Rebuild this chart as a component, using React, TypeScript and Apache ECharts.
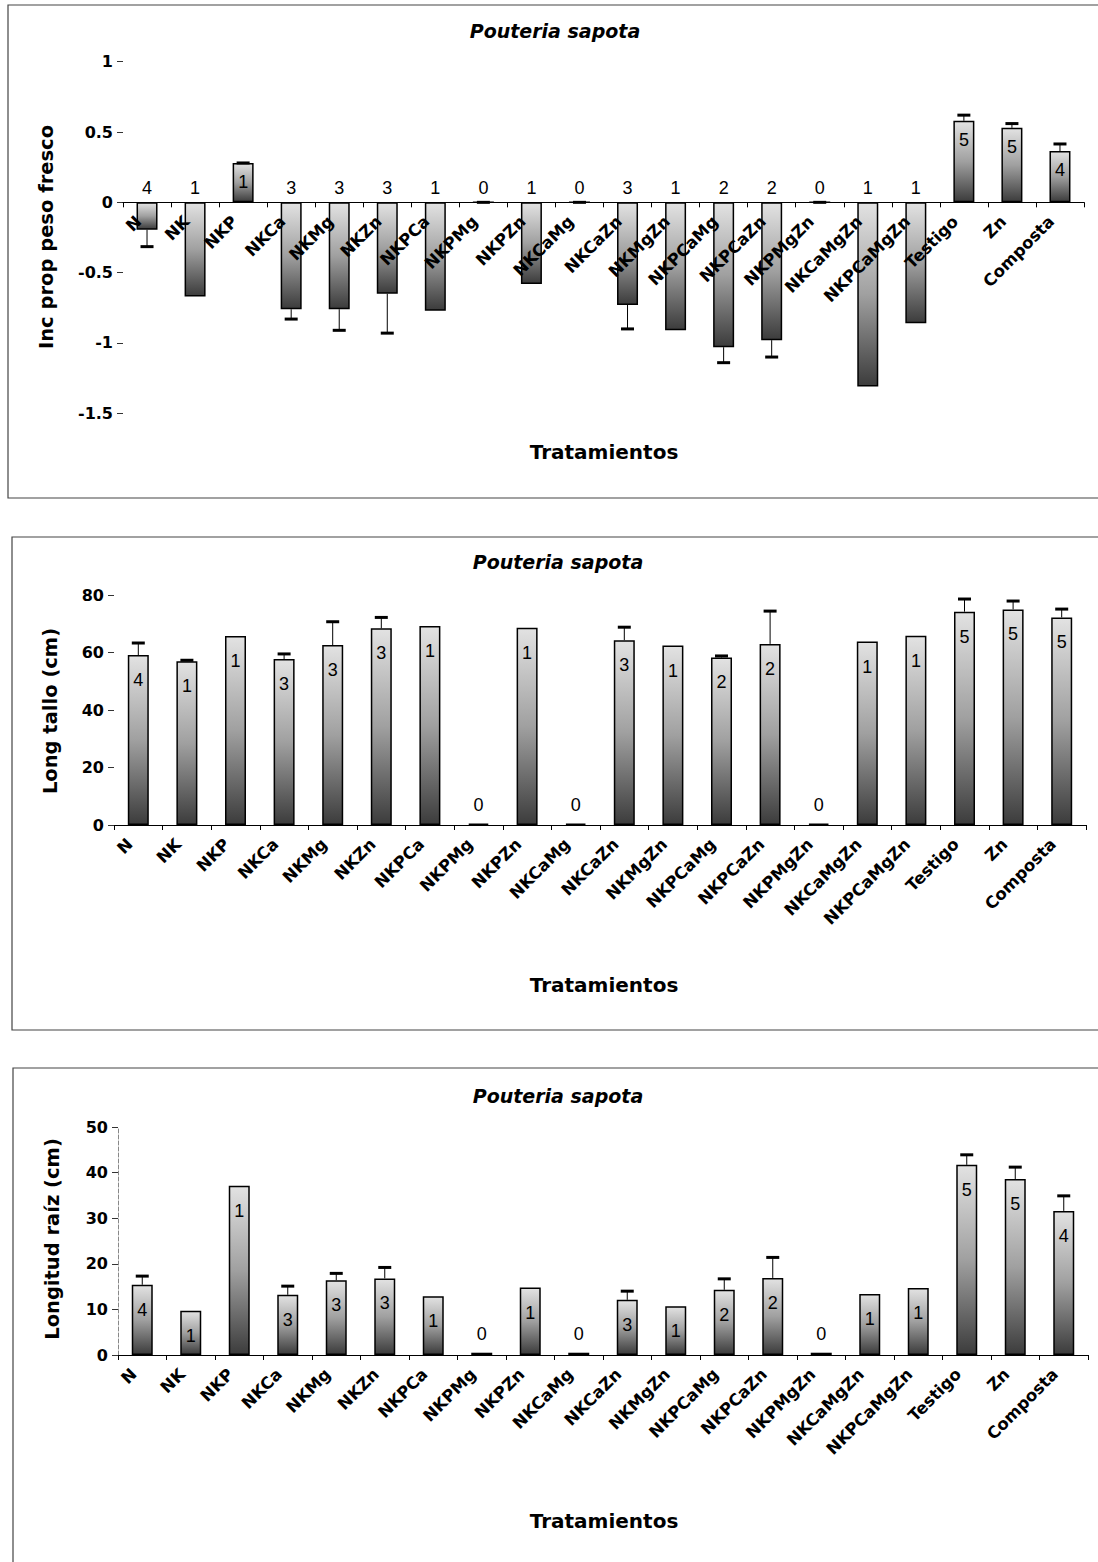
import React, { useEffect, useRef } from "react";
import * as echarts from "echarts";

const categories = ["N", "NK", "NKP", "NKCa", "NKMg", "NKZn", "NKPCa", "NKPMg", "NKPZn", "NKCaMg", "NKCaZn", "NKMgZn", "NKPCaMg", "NKPCaZn", "NKPMgZn", "NKCaMgZn", "NKPCaMgZn", "Testigo", "Zn", "Composta"];

// Panel 1: Inc prop peso fresco
const pesoValues = [-0.195, -0.67, 0.28, -0.76, -0.76, -0.65, -0.77, 0, -0.58, 0, -0.73, -0.91, -1.03, -0.98, 0, -1.31, -0.86, 0.58, 0.53, 0.365];
const pesoErrors = [0.12, null, 0, 0.07, 0.15, 0.28, null, 0, null, 0, 0.17, null, 0.11, 0.12, 0, null, null, 0.04, 0.03, 0.05];
const pesoCounts = [4, 1, 1, 3, 3, 3, 1, 0, 1, 0, 3, 1, 2, 2, 0, 1, 1, 5, 5, 4];

// Panel 2: Long tallo (cm)
const talloValues = [59.1, 57.0, 65.7, 57.7, 62.6, 68.4, 69.2, 0.5, 68.6, 0.5, 64.3, 62.4, 58.3, 63.0, 0.5, 63.8, 65.8, 74.2, 75.0, 72.2];
const talloErrors = [4.2, 0.3, null, 1.8, 8.1, 3.8, null, null, null, null, 4.5, null, 0.5, 11.4, null, null, null, 4.4, 2.9, 2.9];
const talloCounts = [4, 1, 1, 3, 3, 3, 1, 0, 1, 0, 3, 1, 2, 2, 0, 1, 1, 5, 5, 5];

// Panel 3: Longitud raíz (cm)
const raizValues = [15.4, 9.7, 37.1, 13.2, 16.4, 16.8, 12.9, 0.5, 14.8, 0.5, 12.1, 10.7, 14.3, 16.9, 0.5, 13.4, 14.7, 41.7, 38.6, 31.6];
const raizErrors = [1.9, null, null, 1.9, 1.5, 2.4, null, null, null, null, 1.9, null, 2.4, 4.5, null, null, null, 2.2, 2.6, 3.3];
const raizCounts = [4, 1, 1, 3, 3, 3, 1, 0, 1, 0, 3, 1, 2, 2, 0, 1, 1, 5, 5, 4];

const yTicks1 = { min: -1.5, max: 1, interval: 0.5 };
const yTicks2 = { min: 0, max: 80, interval: 20 };
const yTicks3 = { min: 0, max: 50, interval: 10 };

const titleText = "Pouteria sapota";
const xName = "Tratamientos";
const yNames = ["Inc prop peso fresco", "Long tallo (cm)", "Longitud raíz (cm)"];

const FONT = '"DejaVu Sans", sans-serif';

const barFill = {
  type: "linear",
  x: 0, y: 0, x2: 0, y2: 1,
  colorStops: [
    { offset: 0, color: "#e2e2e2" },
    { offset: 0.5, color: "#a0a0a0" },
    { offset: 1, color: "#3c3c3c" },
  ],
};

function barSeries(idx: number, values: number[], counts: number[], insideDist: number, topDist: number) {
  return {
    type: "bar",
    xAxisIndex: idx,
    yAxisIndex: idx,
    barWidth: 21,
    z: 2,
    itemStyle: { color: barFill, borderColor: "#000", borderWidth: 1.5 },
    label: {
      show: true,
      formatter: (p: any) => String(counts[p.dataIndex]),
      fontFamily: '"Liberation Sans", Arial, sans-serif',
      fontSize: 18,
      color: "#000",
    },
    data: values.map((v, i) => {
      const inside = idx === 0 ? v > 0 : counts[i] > 0;
      return {
        value: v,
        label: inside
          ? { position: "insideTop", distance: insideDist }
          : { position: "top", distance: topDist },
      };
    }),
  };
}

function errSeries(idx: number, values: number[], errors: (number | null)[]) {
  const data: number[][] = [];
  values.forEach((v, i) => {
    const e = errors[i];
    if (e !== null && e !== undefined) data.push([i, v, e]);
  });
  return {
    type: "custom",
    xAxisIndex: idx,
    yAxisIndex: idx,
    z: 5,
    silent: true,
    renderItem: (params: any, api: any) => {
      const x = api.value(0);
      const v = api.value(1);
      const e = api.value(2);
      const dir = v < 0 ? -1 : 1;
      const p0 = api.coord([x, v]);
      const p1 = api.coord([x, v + dir * e]);
      return {
        type: "group",
        children: [
          { type: "line", shape: { x1: p0[0], y1: p0[1], x2: p1[0], y2: p1[1] }, style: { stroke: "#000", lineWidth: 1 } },
          { type: "rect", shape: { x: p1[0] - 6.5, y: p1[1] - 1.5, width: 13, height: 3 }, style: { fill: "#000" } },
        ],
      };
    },
    data,
  };
}

function xAxis(idx: number, z: number, show: boolean) {
  return {
    type: "category",
    gridIndex: idx,
    data: categories,
    show,
    z,
    axisLine: { onZero: true, lineStyle: { color: "#000", width: 1.2 } },
    axisTick: { show: true, length: 5, lineStyle: { color: "#000" } },
    axisLabel: {
      interval: 0,
      rotate: 45,
      margin: 8,
      padding: [0, 12, 0, 0],
      fontFamily: FONT,
      fontWeight: "bold",
      fontSize: 16.5,
      color: "#000",
    },
    splitLine: { show: false },
  };
}

function yAxis(idx: number, t: { min: number; max: number; interval: number }, showLine: boolean) {
  return {
    type: "value",
    gridIndex: idx,
    min: t.min,
    max: t.max,
    interval: t.interval,
    axisLine: { show: showLine, lineStyle: { color: "#888", type: "dashed", width: 1 } },
    axisTick: { show: true, length: 6, lineStyle: { color: "#333" } },
    axisLabel: {
      margin: 10,
      fontFamily: FONT,
      fontWeight: "bold",
      fontSize: 16,
      color: "#000",
    },
    splitLine: { show: false },
  };
}

function textEl(text: string, x: number, y: number, size: number, italic: boolean, rotate: boolean) {
  return {
    type: "text",
    x,
    y,
    rotation: rotate ? Math.PI / 2 : 0,
    silent: true,
    style: {
      text,
      fontFamily: FONT,
      fontWeight: "bold",
      fontStyle: italic ? "italic" : "normal",
      fontSize: size,
      fill: "#000",
      align: "center",
      verticalAlign: "middle",
    },
  };
}

function frame(x: number, y: number, w: number, h: number) {
  return {
    type: "rect",
    silent: true,
    shape: { x, y, width: w, height: h },
    style: { fill: "none", stroke: "#444", lineWidth: 1.2 },
    z: -10,
  };
}

export default function App() {
  const ref = useRef<HTMLDivElement>(null);
  useEffect(() => {
    if (!ref.current) return;
    const chart = echarts.init(ref.current, undefined, { renderer: "svg" });
    chart.setOption({
      animation: false,
      backgroundColor: "#fff",
      grid: [
        { left: 123, width: 961, top: 61.7, height: 351.6 },
        { left: 114, width: 972, top: 595, height: 230 },
        { left: 118, width: 970, top: 1127, height: 228 },
        // overlay grid whose bottom edge sits at panel 1's zero line, to carry its category labels
        { left: 123, width: 961, top: 61.7, height: 140.64 },
      ],
      xAxis: [xAxis(0, 0, false), xAxis(1, 0, true), xAxis(2, 0, true), xAxis(3, 3, true)],
      yAxis: [
        yAxis(0, yTicks1, false),
        yAxis(1, yTicks2, false),
        yAxis(2, yTicks3, true),
        { type: "value", gridIndex: 3, min: 0, max: 1, show: false },
      ],
      series: [
        barSeries(0, pesoValues, pesoCounts, 10, 5),
        errSeries(0, pesoValues, pesoErrors),
        barSeries(1, talloValues, talloCounts, 16, 10),
        errSeries(1, talloValues, talloErrors),
        barSeries(2, raizValues, raizCounts, 16, 10),
        errSeries(2, raizValues, raizErrors),
      ],
      graphic: [
        frame(8, 5, 1100, 493),
        frame(12, 537, 1100, 493),
        frame(13, 1068, 1100, 600),
        textEl(titleText, 555, 31, 19, true, false),
        textEl(titleText, 558, 562, 19, true, false),
        textEl(titleText, 558, 1096, 19, true, false),
        textEl(xName, 604, 452, 20, false, false),
        textEl(xName, 604, 985, 20, false, false),
        textEl(xName, 604, 1521, 20, false, false),
        { ...textEl(yNames[0], 46, 237, 19.5, false, false), rotation: Math.PI / 2 },
        { ...textEl(yNames[1], 50, 711, 19.5, false, false), rotation: Math.PI / 2 },
        { ...textEl(yNames[2], 52, 1239, 19.5, false, false), rotation: Math.PI / 2 },
      ],
    });
    return () => chart.dispose();
  }, []);
  return (
    <div
      ref={ref}
      style={{ position: "fixed", left: 0, top: 0, width: 1098, height: 1562, background: "#fff" }}
    />
  );
}
